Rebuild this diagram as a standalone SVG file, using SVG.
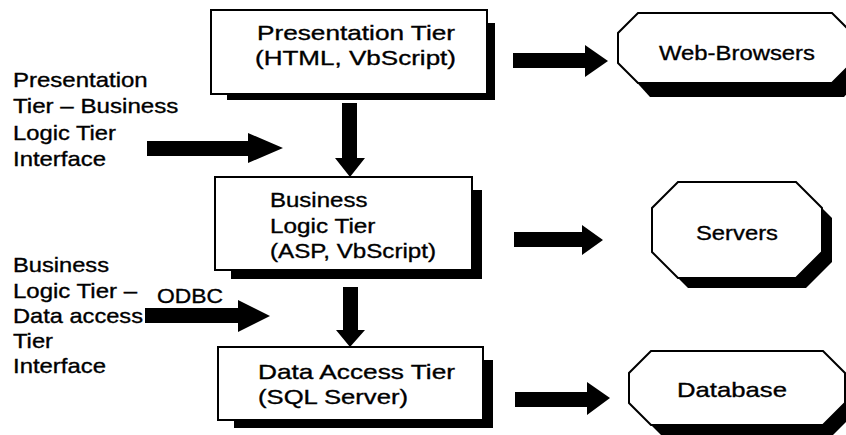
<svg xmlns="http://www.w3.org/2000/svg" width="846" height="435" viewBox="0 0 846 435">
<style>
  text { font-family: "Liberation Sans", Arial, sans-serif; font-size: 21px; fill: #000; stroke: #000; stroke-width: 0.35px; }
  .box { fill: #fff; stroke: #000; stroke-width: 2; }
  .shadow { fill: #000; stroke: none; }
  .arrow { fill: #000; stroke: none; }
</style>
<rect x="0" y="0" width="846" height="435" fill="#fff"/>

<g id="connectors">
  <polygon class="arrow" points="147,141 248,141 248,133 283,148 248,163 248,156 147,156"/>
  <polygon class="arrow" points="145,308 238,308 238,300 270,316 238,332 238,323 145,323"/>
  <polygon class="arrow" points="342,103 357,103 357,158 365,158 350,177 335,158 342,158"/>
  <polygon class="arrow" points="343,287 358,287 358,330 365,330 350,347 336,330 343,330"/>
  <polygon class="arrow" points="513,53 585,53 585,45 608,61 585,77 585,68 513,68"/>
  <polygon class="arrow" points="514,232 582,232 582,225 603,240 582,255 582,247 514,247"/>
  <polygon class="arrow" points="515,392 587,392 587,382 610,398 587,415 587,407 515,407"/>
</g>

<g id="presentation-tier">
  <rect class="shadow" x="227" y="23" width="268" height="77"/>
  <rect class="box" x="211" y="10" width="276" height="84"/>
  <text x="257" y="40" textLength="198" lengthAdjust="spacingAndGlyphs">Presentation Tier</text>
  <text x="255" y="65" textLength="201" lengthAdjust="spacingAndGlyphs">(HTML, VbScript)</text>
</g>

<g id="business-logic-tier">
  <rect class="shadow" x="231" y="190" width="251" height="89"/>
  <rect class="box" x="215" y="177" width="257" height="93"/>
  <text x="270" y="207" textLength="97.4" lengthAdjust="spacingAndGlyphs">Business</text>
  <text x="270" y="233" textLength="105.4" lengthAdjust="spacingAndGlyphs">Logic Tier</text>
  <text x="270" y="258" textLength="166" lengthAdjust="spacingAndGlyphs">(ASP, VbScript)</text>
</g>

<g id="data-access-tier">
  <rect class="shadow" x="234" y="360" width="259" height="68"/>
  <rect class="box" x="218" y="347" width="265" height="73"/>
  <text x="258" y="379" textLength="197" lengthAdjust="spacingAndGlyphs">Data Access Tier</text>
  <text x="258" y="404" textLength="150" lengthAdjust="spacingAndGlyphs">(SQL Server)</text>
</g>

<g id="web-browsers">
  <polygon class="shadow" points="650,25 844,25 864,45 864,75 844,97 650,97 630,75 630,45"/>
  <polygon class="box" points="638,13 832,13 852,33 852,63 832,83 638,83 618,63 618,33"/>
  <text x="737" y="60" text-anchor="middle" textLength="156" lengthAdjust="spacingAndGlyphs">Web-Browsers</text>
</g>

<g id="servers">
  <polygon class="shadow" points="688,192 806,192 832,218 832,262 806,288 688,288 662,262 662,218"/>
  <polygon class="box" points="678,182 796,182 822,208 822,252 796,278 678,278 652,252 652,208"/>
  <text x="737" y="240" text-anchor="middle" textLength="82" lengthAdjust="spacingAndGlyphs">Servers</text>
</g>

<g id="database">
  <polygon class="shadow" points="661,361 833,361 855,383 855,413 833,435 661,435 639,413 639,383"/>
  <polygon class="box" points="651,351 823,351 845,373 845,403 823,425 651,425 629,403 629,373"/>
  <text x="732" y="397" text-anchor="middle" textLength="110" lengthAdjust="spacingAndGlyphs">Database</text>
</g>

<g id="label-presentation-business-interface">
  <text x="13" y="87" textLength="134.7" lengthAdjust="spacingAndGlyphs">Presentation</text>
  <text x="13" y="113" textLength="165.4" lengthAdjust="spacingAndGlyphs">Tier – Business</text>
  <text x="13" y="140" textLength="103" lengthAdjust="spacingAndGlyphs">Logic Tier</text>
  <text x="13" y="166" textLength="93" lengthAdjust="spacingAndGlyphs">Interface</text>
</g>

<g id="label-business-data-interface">
  <text x="13" y="272" textLength="96" lengthAdjust="spacingAndGlyphs">Business</text>
  <text x="13" y="298" textLength="124" lengthAdjust="spacingAndGlyphs">Logic Tier –</text>
  <text x="13" y="323" textLength="130" lengthAdjust="spacingAndGlyphs">Data access</text>
  <text x="13" y="348" textLength="40" lengthAdjust="spacingAndGlyphs">Tier</text>
  <text x="13" y="373" textLength="93" lengthAdjust="spacingAndGlyphs">Interface</text>
</g>

<g id="label-odbc">
  <text x="157" y="303" textLength="66" lengthAdjust="spacingAndGlyphs">ODBC</text>
</g>
</svg>
